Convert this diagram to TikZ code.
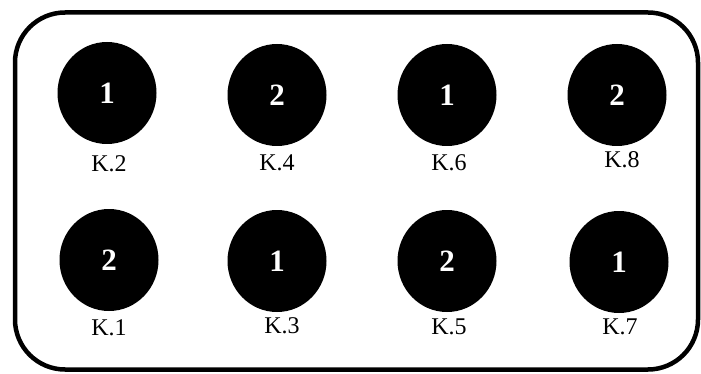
\documentclass[tikz,border=0pt]{standalone}
\usepackage{fontspec}
\setmainfont{Liberation Serif}
\usetikzlibrary{shapes.geometric}
\begin{document}
\begin{tikzpicture}[x=1pt,y=-1pt,
  disc/.style={ellipse,fill=black,minimum width=99pt,minimum height=102pt,inner sep=0pt,
    text=white,font=\fontsize{31}{31}\selectfont\bfseries},
  lbl/.style={inner sep=0pt,font=\fontsize{24}{24}\selectfont}]
\useasboundingbox (0,0) rectangle (701,374);
\node[draw,line width=4.5pt,rounded corners=50pt,minimum width=683pt,minimum height=357pt,inner sep=0pt] (frame) at (356.5,191) {};
\node[disc] (c2) at (107,93) {1};
\node[disc] (c4) at (277,95) {2};
\node[disc] (c6) at (447,95) {1};
\node[disc] (c8) at (617,95) {2};
\node[disc] (c1) at (109,260) {2};
\node[disc] (c3) at (277,261) {1};
\node[disc] (c5) at (447,261) {2};
\node[disc] (c7) at (619,262) {1};
\node[lbl] (l2) at (109,164) {K.2};
\node[lbl] (l4) at (277,163) {K.4};
\node[lbl] (l6) at (449,163) {K.6};
\node[lbl] (l8) at (622,160) {K.8};
\node[lbl] (l1) at (109,328) {K.1};
\node[lbl] (l3) at (282,326) {K.3};
\node[lbl] (l5) at (449,327) {K.5};
\node[lbl] (l7) at (620,327) {K.7};
\end{tikzpicture}
\end{document}
